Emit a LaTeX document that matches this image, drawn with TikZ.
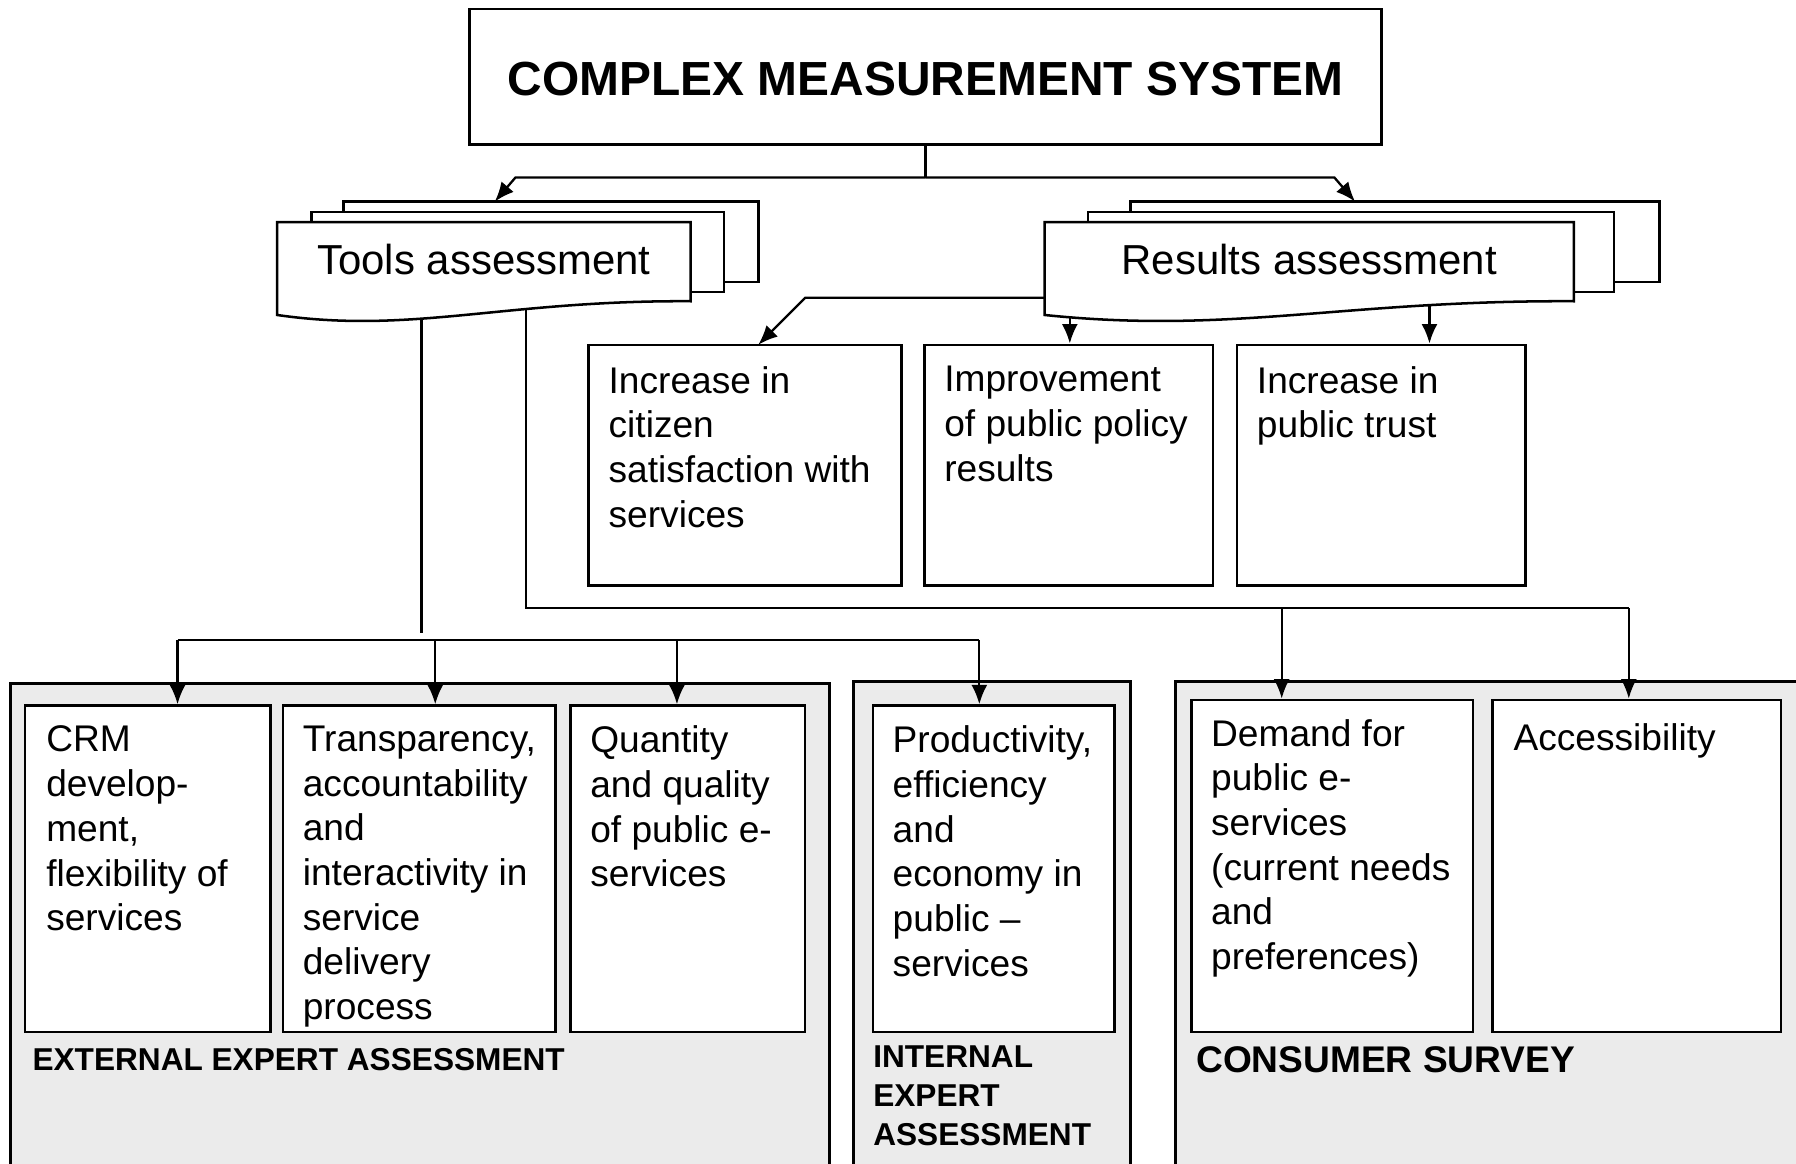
\documentclass[tikz,border=0pt]{standalone}
\usepackage{fontspec}
\setmainfont{Liberation Sans}
\usetikzlibrary{arrows.meta,fit}
\tikzset{
  ln/.style={line width=1pt},
  arr/.style={line width=1pt,-{Latex[length=8.5pt,width=7pt]}},
  box/.style={draw,line width=1.1pt,fill=white,inner sep=0pt},
  grp/.style={draw,line width=1.2pt,fill=black!8,inner sep=0pt},
  page/.style={draw,line width=1.1pt,fill=white},
  txt/.style={anchor=north west,align=left,inner sep=0pt,font=\fontsize{16.2}{19.5}\selectfont,execute at begin node=\strut},
  lbl/.style={anchor=north west,align=left,inner sep=0pt,font=\bfseries\fontsize{13.8}{17}\selectfont,execute at begin node=\strut},
}
\begin{document}
\begin{tikzpicture}[x=0.5pt,y=-0.5pt]
\useasboundingbox (0,0) rectangle (1568,1016);
\clip (0,0) rectangle (1568,1016);

% ---- groups (background)
\node[grp,fit={(9,597) (724,1040)}] (g1) {};
\node[grp,fit={(745,595) (987,1040)}] (g2) {};
\node[grp,fit={(1026,595) (1580,1040)}] (g3) {};

% ---- coordinates for connectors
\coordinate (top) at (808,126);
\coordinate (tj) at (808,155);
\coordinate (tl) at (450,155);
\coordinate (tr) at (1165,155);
\coordinate (tlend) at (432,176);
\coordinate (trend) at (1183,176);

\coordinate (ra) at (912,260);
\coordinate (rb) at (703,260);
\coordinate (rc) at (662,301);
\coordinate (rd) at (934,270);
\coordinate (re) at (1248,262);

\coordinate (ta) at (368,270);
\coordinate (tb) at (368,553);
\coordinate (tc) at (459,268);
\coordinate (td) at (459,531);
\coordinate (te) at (1422,531);
\coordinate (tf) at (1119,531);

\coordinate (h1) at (155,559);
\coordinate (h2) at (380,559);
\coordinate (h3) at (591,559);
\coordinate (h4) at (855,559);

% ---- boxes
\node[box,fit={(410,8) (1206,126)}] (title) {};
\node[font=\bfseries\fontsize{20.9}{25}\selectfont,anchor=base,inner sep=0pt] (titlet) at (808,83) {COMPLEX MEASUREMENT SYSTEM};

\node[box,fit={(514,301) (787,511)}] (r1) {};
\node[box,fit={(807,301) (1059,511)}] (r2) {};
\node[box,fit={(1080,301) (1332,511)}] (r3) {};

\node[box,fit={(22,616) (236,901)}] (b1) {};
\node[box,fit={(247,616) (485,901)}] (b2) {};
\node[box,fit={(498,616) (703,901)}] (b3) {};
\node[box,fit={(762,616) (973,901)}] (b4) {};
\node[box,fit={(1040,611) (1286,901)}] (b5) {};
\node[box,fit={(1303,611) (1555,901)}] (b6) {};

% ---- connectors
\draw[ln] (title.south -| top) -- (tj);
\draw[arr] (tj) -- (tl) -- (tlend);
\draw[arr] (tj) -- (tr) -- (trend);

\draw[arr] (ra) -- (rb) -- (rc);
\draw[arr] (rd) -- (rd |- r2.north);
\draw[arr] (re) -- (re |- r3.north);

\draw[ln] (ta) -- (tb);
\draw[ln] (tc) -- (td) -- (te);
\draw[arr] (tf) -- (tf |- b5.north);
\draw[arr] (te) -- (te |- b6.north);

\draw[ln] (h1) -- (h4);
\draw[arr] (h1) -- (h1 |- b1.north);
\draw[arr] (h2) -- (h2 |- b2.north);
\draw[arr] (h3) -- (h3 |- b3.north);
\draw[arr] (h4) -- (h4 |- b4.north);

% ---- stacked documents
\draw[page] (300,176) rectangle (662,246);
\draw[page] (272,185) rectangle (632,255);
\draw[page] (242,194) -- (603,194) -- (603,263)
  .. controls (440,262) and (360,292) .. (242,275) -- cycle;
\node[font=\fontsize{18.3}{22}\selectfont,anchor=base,inner sep=0pt] (tools) at (422.5,240) {Tools assessment};

\draw[page] (987,176) rectangle (1449,246);
\draw[page] (950,185) rectangle (1409,255);
\draw[page] (912,194) -- (1374,194) -- (1374,263)
  .. controls (1174,262) and (1076,292) .. (912,275) -- cycle;
\node[font=\fontsize{18.3}{22}\selectfont,anchor=base,inner sep=0pt] (results) at (1143,240) {Results assessment};

% ---- texts
\node[txt] (r1t) at (531,319.5) {Increase in\\citizen\\satisfaction with\\services};
\node[txt] (r2t) at (824,319.5) {Improvement\\of public policy\\results};
\node[txt] (r3t) at (1097,319.5) {Increase in\\public trust};

\node[txt] (b1t) at (40,633.5) {CRM\\develop-\\ment,\\flexibility of\\services};
\node[txt] (b2t) at (264,633.5) {Transparency,\\accountability\\and\\interactivity in\\service\\delivery\\process};
\node[txt] (b3t) at (515,633.5) {Quantity\\and quality\\of public e-\\services};
\node[txt] (b4t) at (779,633.5) {Productivity,\\efficiency\\and\\economy in\\public --\\services};
\node[txt] (b5t) at (1057,627.5) {Demand for\\public e-\\services\\(current needs\\and\\preferences)};
\node[txt] (b6t) at (1321,627.5) {Accessibility};

\node[font=\bfseries\fontsize{13.8}{17}\selectfont,anchor=base west,inner sep=0pt] (l1) at (28,935) {EXTERNAL EXPERT ASSESSMENT};
\node[lbl] (l2) at (762,913) {INTERNAL\\EXPERT\\ASSESSMENT};
\node[font=\bfseries\fontsize{16.2}{19.5}\selectfont,anchor=base west,inner sep=0pt] (l3) at (1044,936) {CONSUMER SURVEY};
\end{tikzpicture}
\end{document}
